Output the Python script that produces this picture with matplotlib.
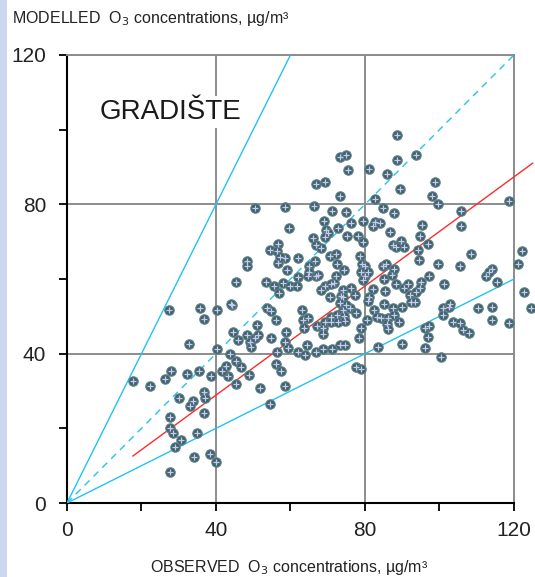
import matplotlib.pyplot as plt
from matplotlib.patches import Rectangle
import numpy as np

# observed vs modelled O3
obs = [
    50.4, 48.2, 48.2, 45.5,
    58.6, 66.3, 73.2, 75.0, 75.4, 81.0, 85.9, 66.8, 69.4, 73.2, 82.8,
    71.2, 75.0, 69.1, 76.3, 79.4, 82.6, 82.1, 84.1, 84.8, 59.5, 66.0,
    69.6, 70.2, 69.4, 72.7, 75.1, 78.1, 79.4, 66.9, 68.3,
    54.4, 56.6, 56.5, 58.4, 56.6, 57.1, 62.0, 66.5, 70.5, 72.3, 72.6, 78.6,
    79.2, 79.9, 79.0, 79.9, 79.4, 80.8, 84.8, 85.7, 85.1, 87.2,
    59.2, 62.0, 64.9, 65.1, 64.7, 66.9, 67.4, 72.3, 71.8, 74.5,
    53.3, 55.6, 58.0, 59.8, 56.8, 61.8, 69.2, 70.9, 68.1,
    74.1, 73.5, 76.3, 77.2, 70.5, 74.1, 82.1, 81.2, 85.4,
    # right upper block
    88.6, 88.6, 93.6, 89.5, 98.7, 98.0, 99.5, 118.6, 87.7, 105.8, 95.4, 105.8,
    86.6, 94.9, 87.5, 89.7, 90.6, 88.4, 94.2, 96.9, 94.5, 99.5, 105.4, 108.5,
    87.7, 97.3, 88.2, 90.6, 91.5, 95.1, 94.9, 92.0, 93.6, 101.3,
    112.5, 114.1, 113.2, 115.4, 122.2, 121.0, 122.8, 124.7,
    # left lower block
    27.3, 35.8, 36.8, 40.4, 44.2, 32.8, 40.4,
    44.6, 45.9, 48.2, 49.1, 49.5, 50.4,
    43.7, 45.5, 46.8, 48.9, 42.6, 43.2, 45.3, 41.5, 38.6, 35.4, 32.3, 28.0,
    26.3, 22.3, 17.6, 30.1, 36.7, 37.0, 33.7, 33.0, 36.7, 27.6, 27.6, 28.5,
    30.5, 29.0, 34.9, 34.0, 38.5, 39.9, 27.6, 43.9,
    # middle lower block
    53.8, 54.7, 56.0, 51.1, 51.3, 54.9, 58.9, 58.4, 59.3, 62.0, 64.0, 56.5,
    56.0, 57.4, 51.7, 58.6, 54.4, 63.1, 63.4, 64.7, 63.6, 64.5, 67.2, 68.7,
    68.7, 69.4, 70.8, 70.8, 72.6, 72.7, 74.1, 74.5, 74.7, 75.9, 73.2, 75.0,
    77.7, 78.8, 78.3, 66.9, 68.7, 71.1, 73.2, 74.7, 77.7, 79.0, 80.8, 80.6,
    82.4, 83.3, 84.3, 85.1, 86.1, 86.0, 86.1, 83.6,
    # right lower block
    87.5, 87.9, 89.1, 90.0, 92.4, 93.3, 90.0, 96.0, 97.3, 96.9, 96.0, 100.4,
    100.9, 100.9, 102.5, 102.9, 103.6, 105.4, 106.2, 108.0, 110.3, 114.1,
    114.1, 118.6,
]
mod = [
    79.1, 64.7, 63.4, 59.1,
    79.2, 79.6, 92.7, 93.3, 89.1, 89.5, 88.2, 85.4, 86.0, 82.3, 81.4,
    78.3, 77.9, 75.6, 75.0, 75.6, 75.4, 74.3, 75.0, 79.0, 73.6, 71.0,
    73.2, 72.3, 71.2, 73.6, 71.4, 71.4, 69.9, 69.2, 68.3,
    67.8, 69.4, 67.4, 65.6, 64.3, 66.0, 65.6, 64.7, 66.2, 66.8, 64.1, 66.2,
    64.1, 63.4, 62.0, 60.7, 59.8, 61.9, 63.4, 64.1, 60.0, 61.1,
    62.3, 60.5, 63.4, 62.0, 60.7, 60.7, 61.1, 60.7, 58.9, 62.3,
    59.1, 58.0, 58.9, 58.2, 56.2, 58.0, 58.0, 58.7, 57.1,
    57.1, 55.5, 57.6, 55.8, 55.3, 55.3, 57.3, 55.3, 56.9,
    # right upper block
    98.7, 91.8, 93.3, 84.1, 85.9, 82.3, 80.1, 81.0, 77.8, 78.3, 74.5, 74.1,
    72.7, 71.4, 69.2, 70.1, 68.6, 68.6, 67.8, 69.4, 65.0, 64.1, 63.6, 66.8,
    62.6, 60.9, 58.6, 57.7, 58.6, 59.1, 57.7, 55.8, 56.6, 58.6,
    60.9, 62.6, 62.0, 59.1, 67.6, 64.1, 56.4, 52.2,
    # left lower block
    51.7, 52.2, 49.3, 51.7, 53.1, 42.6, 41.3,
    45.9, 43.7, 44.9, 43.2, 41.9, 44.2,
    39.9, 38.1, 36.5, 34.3, 36.8, 33.9, 31.8, 35.4, 34.0, 35.4, 34.5, 35.4,
    33.2, 31.4, 32.7, 28.2, 29.8, 28.2, 27.3, 26.1, 24.0, 23.1, 20.0, 18.7,
    16.9, 14.9, 18.7, 12.3, 13.1, 10.9, 8.2, 53.3,
    # middle lower block
    52.2, 51.3, 49.1, 47.7, 44.9, 44.3, 45.9, 43.2, 41.5, 40.4, 39.7, 40.4,
    37.3, 35.4, 30.9, 31.4, 26.5, 51.7, 49.1, 49.5, 46.8, 42.2, 47.3, 46.8,
    45.2, 48.6, 49.9, 48.6, 50.4, 48.6, 51.7, 50.2, 48.8, 52.2, 53.5, 53.1,
    50.9, 46.8, 44.2, 40.4, 41.3, 41.3, 42.2, 42.2, 36.5, 35.9, 54.0, 49.1,
    51.7, 49.9, 49.5, 53.3, 49.5, 47.9, 46.6, 41.9,
    # right lower block
    52.2, 50.4, 48.6, 52.6, 53.8, 53.8, 42.6, 46.8, 47.3, 44.6, 41.5, 39.1,
    52.2, 50.4, 52.4, 53.3, 48.6, 48.2, 46.4, 45.5, 52.2, 52.6,
    49.1, 48.2,
]

# reference lines: factor of 2, 1:1, factor of 0.5, and the fitted red line
line_x = [0, 120]
fit_x = [17.7, 125]
fit_y = [12.6, 91.0]

cyan = '#20c4f4'
grid_grey = '#8c8c8c'

fig = plt.figure(figsize=(5.35, 5.77), dpi=100)
fig.patches.append(Rectangle((0, 0), 0.014, 1, transform=fig.transFigure,
                             facecolor='#c9d8ee', edgecolor='none', zorder=0))
ax = fig.add_axes([0.1252, 0.1282, 0.8355, 0.7765])

ax.plot([0, 60], [0, 120], color=cyan, lw=1.0, zorder=3)
ax.plot(line_x, line_x, color=cyan, lw=1.0, ls=(0, (5, 4)), zorder=3)
ax.plot(line_x, [0.5 * v for v in line_x], color=cyan, lw=1.0, zorder=3)
ax.plot(fit_x, fit_y, color='#ff2a2a', lw=1.0, zorder=3, clip_on=False)

ax.scatter(obs, mod, s=46, facecolor='#3f6269', edgecolor='#5e8288',
           linewidth=0.8, zorder=4, clip_on=False)
ax.scatter(obs, mod, s=14, marker='+', color='#c8c8f4', linewidth=0.9,
           zorder=5, clip_on=False)

ax.set_xlim(0, 120)
ax.set_ylim(0, 120)
ax.set_xticks([0, 40, 80, 120])
ax.set_yticks([0, 40, 80, 120])
ax.set_xticks([20, 60, 100], minor=True)
ax.set_yticks([20, 60, 100], minor=True)

tick_font = dict(family=['Liberation Sans Narrow', 'Liberation Sans', 'DejaVu Sans'],
                 size=15, color='#222222')
ax.set_xticklabels(['0', '40', '80', '120'], **tick_font)
ax.set_yticklabels(['0', '40', '80', '120'], **tick_font)
ax.tick_params(which='both', direction='out', length=6, width=1.3, color='black')
ax.tick_params(axis='x', pad=7)
ax.tick_params(axis='y', pad=9)

ax.grid(which='major', color=grid_grey, lw=1.4, zorder=1)
ax.set_axisbelow(True)
for side in ['top', 'right']:
    ax.spines[side].set_color(grid_grey)
    ax.spines[side].set_linewidth(1.4)
for side in ['left', 'bottom']:
    ax.spines[side].set_color('black')
    ax.spines[side].set_linewidth(1.5)

ax.text(8.8, 104.8, 'GRADIŠTE', fontsize=20, va='center', ha='left',
        family=['Liberation Sans', 'DejaVu Sans'], color='#1a1a1a', zorder=6,
        bbox=dict(facecolor='white', edgecolor='none', pad=2))

label_font = ['Liberation Sans', 'DejaVu Sans']
fig.text(0.022, 0.968, 'MODELLED  O$_3$ concentrations, µg/m³', fontsize=11.5,
         family=label_font, ha='left', va='center', color='#222222')
fig.text(0.54, 0.017, 'OBSERVED  O$_3$ concentrations, µg/m³', fontsize=11.5,
         family=label_font, ha='center', va='center', color='#222222')

fig.savefig('out.png', dpi=100, facecolor='white')
